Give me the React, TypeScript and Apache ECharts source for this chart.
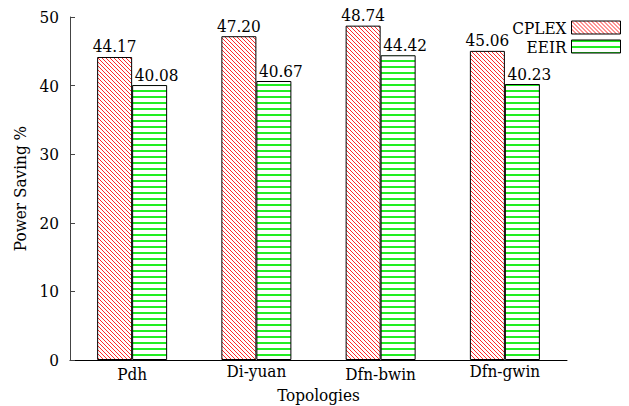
import React, { useEffect, useRef } from "react";
import * as echarts from "echarts";

// Power saving per topology, CPLEX vs. EEIR
const topologies = ["Pdh", "Di-yuan", "Dfn-bwin", "Dfn-gwin"];
const cplexValues = [44.17, 47.2, 48.74, 45.06];
const eeirValues = [40.08, 40.67, 44.42, 40.23];
const seriesNames = ["CPLEX", "EEIR"];
const yTicks = { min: 0, max: 50, interval: 10 };

const FONT = "DejaVu Serif Condensed, DejaVu Serif";
const FS = 17;

// Tiled hatch fills painted onto small canvases
function makePattern(w: number, h: number, draw: (ctx: CanvasRenderingContext2D) => void) {
  const c = document.createElement("canvas");
  c.width = w;
  c.height = h;
  const ctx = c.getContext("2d")!;
  ctx.fillStyle = "#ffffff";
  ctx.fillRect(0, 0, w, h);
  draw(ctx);
  return { image: c, repeat: "repeat", imageWidth: w, imageHeight: h } as any;
}

export default function App() {
  const ref = useRef<HTMLDivElement>(null);

  useEffect(() => {
    if (!ref.current) return;
    const chart = echarts.init(ref.current, undefined, { renderer: "svg" });

    const diagonalRed = makePattern(4, 4, (ctx) => {
      ctx.strokeStyle = "#ff2a2a";
      ctx.lineWidth = 1;
      for (let k = -1; k <= 1; k++) {
        ctx.beginPath();
        ctx.moveTo(k * 4 - 1, -1);
        ctx.lineTo(k * 4 + 5, 5);
        ctx.stroke();
      }
    });
    const horizontalGreen = makePattern(4, 6, (ctx) => {
      ctx.fillStyle = "#22ee22";
      ctx.fillRect(0, 0, 4, 2);
    });

    const text = { fontFamily: FONT, fontSize: FS, color: "#000" };

    const labelStyle = {
      show: true,
      position: "top" as const,
      distance: 2,
      ...text,
      formatter: (p: any) => Number(p.value).toFixed(2),
    };

    // labels without descenders sit a little lower
    const categoryData = topologies.map((t) => ({
      value: t,
      textStyle: { padding: /[gy]/.test(t) ? [0, 0, 0, 0] : [3, 0, 0, 0] },
    }));

    chart.setOption({
      animation: false,
      backgroundColor: "#ffffff",
      textStyle: { fontFamily: FONT },
      grid: { left: 70, right: 62, top: 17, bottom: 46, outerBoundsMode: "none", containLabel: false },
      legend: {
        orient: "vertical",
        right: 8,
        top: 18,
        padding: 0,
        align: "right",
        itemWidth: 49,
        itemHeight: 13,
        itemGap: 0,
        icon: "rect",
        itemStyle: { borderColor: "#000", borderWidth: 1 },
        textStyle: { ...text, lineHeight: 19 },
        data: seriesNames,
      },
      xAxis: {
        type: "category",
        data: categoryData,
        name: "Topologies",
        nameLocation: "middle",
        nameGap: 17,
        nameTextStyle: { ...text },
        axisLine: { lineStyle: { color: "#000", width: 1 } },
        axisTick: { show: false },
        axisLabel: { ...text, margin: 2 },
      },
      yAxis: {
        type: "value",
        min: yTicks.min,
        max: yTicks.max,
        interval: yTicks.interval,
        name: "Power Saving %",
        nameLocation: "middle",
        nameGap: 38,
        nameTextStyle: { ...text },
        axisLine: { show: true, lineStyle: { color: "#444", width: 1 } },
        axisTick: { show: true, inside: true, length: 5, lineStyle: { color: "#444" } },
        axisLabel: { ...text, margin: 11 },
        splitLine: { show: false },
      },
      series: [
        {
          name: seriesNames[0],
          type: "bar",
          data: cplexValues,
          barWidth: 35,
          barGap: "0%",
          itemStyle: { color: diagonalRed, borderColor: "#000", borderWidth: 1 },
          label: { ...labelStyle },
        },
        {
          name: seriesNames[1],
          type: "bar",
          data: eeirValues,
          barWidth: 35,
          barGap: "0%",
          itemStyle: { color: horizontalGreen, borderColor: "#000", borderWidth: 1 },
          label: { ...labelStyle, offset: [7, 0] },
        },
      ],
    });

    return () => chart.dispose();
  }, []);

  return (
    <div
      ref={ref}
      style={{ position: "fixed", left: 0, top: 0, width: 629, height: 406, background: "#fff" }}
    />
  );
}
